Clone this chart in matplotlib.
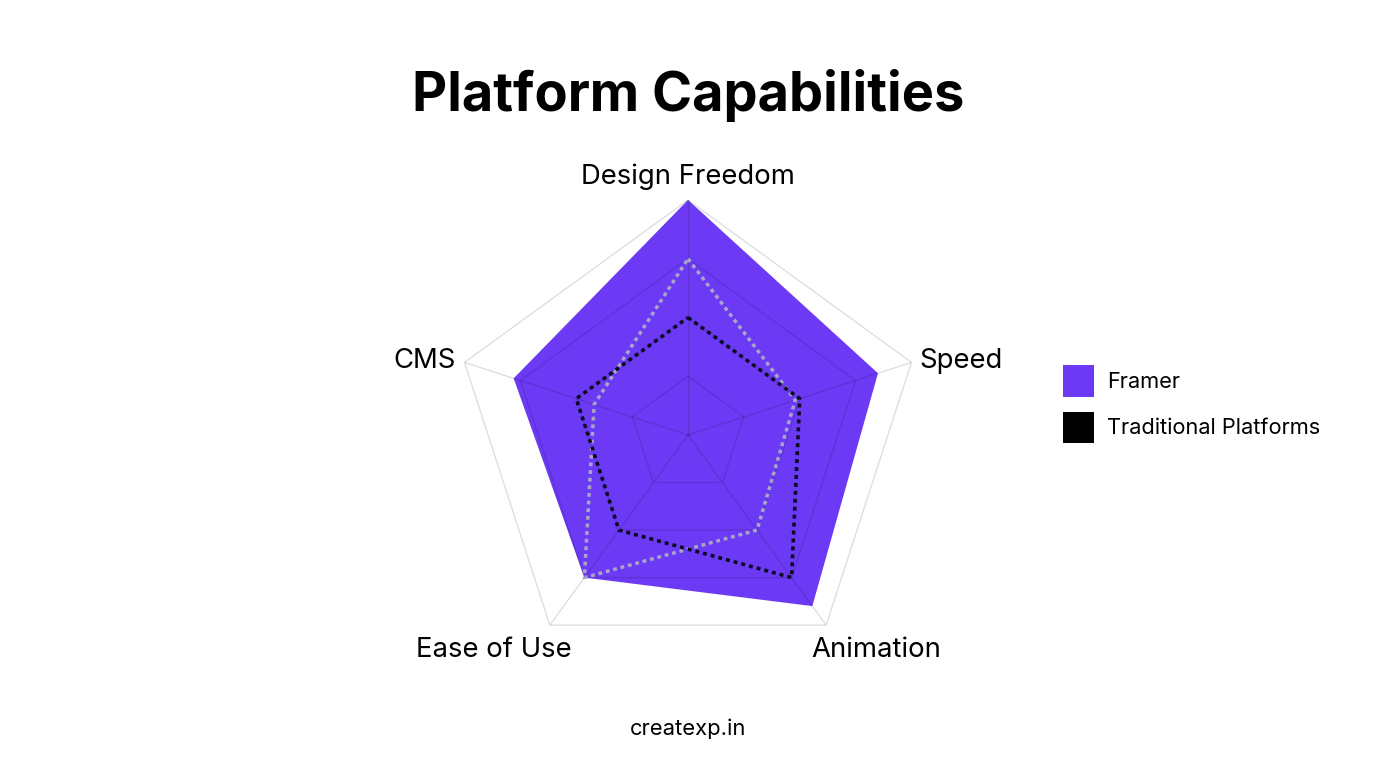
import matplotlib.pyplot as plt
import numpy as np
from matplotlib.patches import Patch

plt.rcParams["font.family"] = ["Inter", "DejaVu Sans"]

# data (scale 0-100)
categories = ["Design Freedom", "Speed", "Animation", "Ease of Use", "CMS"]
framer = [100, 85, 90, 75, 78]
traditional = [50, 50, 75, 50, 50]
traditional_ghost = [75, 48, 50, 75, 42]  # fading frame of the same series
ring_levels = [25, 50, 75, 100]

PURPLE = "#6c3af5"

fig = plt.figure(figsize=(13.76, 7.68), dpi=100)
ax = fig.add_axes([0.3292, 0.1276, 0.3416, 0.612], projection="polar")
ax.set_theta_offset(np.pi / 2)
ax.set_theta_direction(-1)
ax.set_ylim(0, 100)
ax.grid(False)
ax.spines["polar"].set_visible(False)
ax.set_xticks([])
ax.set_yticks([])
ax.patch.set_alpha(0)

angles = np.linspace(0, 2 * np.pi, len(categories), endpoint=False)
closed = np.append(angles, angles[0])


def close(values):
    return np.append(values, values[0])


ax.fill(closed, close(framer), color=PURPLE, zorder=1, lw=0)

# pentagon grid on top of the fill
for level in ring_levels:
    ax.plot(closed, [level] * len(closed), color="black", alpha=0.13, lw=1, zorder=2)
for angle in angles:
    ax.plot([angle, angle], [0, 100], color="black", alpha=0.13, lw=1, zorder=2)

ax.plot(closed, close(traditional_ghost), color="#aaa4c8", lw=2.5,
        linestyle=(0, (1.1, 1.1)), zorder=3)
ax.plot(closed, close(traditional), color="#0d0a24", lw=2.6,
        linestyle=(0, (1.1, 1.1)), zorder=4)

label_offsets = {
    "Design Freedom": ((0, 23), "center"),
    "Speed": ((8, 1), "left"),
    "Animation": ((50, -25), "center"),
    "Ease of Use": ((-56, -25), "center"),
    "CMS": ((-9, 1), "right"),
}
for angle, name in zip(angles, categories):
    offset, ha = label_offsets[name]
    ax.annotate(name, xy=(angle, 100), xytext=offset, textcoords="offset pixels",
                ha=ha, va="center", fontsize=19.8, color="black", annotation_clip=False)

fig.text(0.5, 1 - 96 / 768, "Platform Capabilities", ha="center", va="center",
         fontsize=39, fontweight="bold", color="black")
fig.text(0.5, 1 - 729 / 768, "createxp.in", ha="center", va="center",
         fontsize=15.8, color="black")

handles = [Patch(facecolor=PURPLE, edgecolor="none"), Patch(facecolor="black", edgecolor="none")]
fig.legend(handles, ["Framer", "Traditional Platforms"], loc="upper left",
           bbox_to_anchor=(1063 / 1376, 1 - 365 / 768), frameon=False, fontsize=15.7,
           handlelength=1.42, handleheight=1.85, handletextpad=0.6, labelspacing=0.69,
           borderpad=0, borderaxespad=0)

fig.savefig("out.png", dpi=100, facecolor="white")
